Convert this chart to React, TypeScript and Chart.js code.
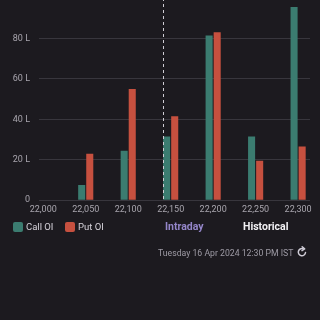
import React, { useEffect, useRef } from "react";
import { Chart, registerables } from "chart.js";

Chart.register(...registerables);

const strikes = [22000, 22050, 22100, 22150, 22200, 22250, 22300];
const callOI = [0, 7.5, 24.5, 31.5, 81.5, 31.5, 95.5];
const putOI = [0, 23, 55, 41.5, 83, 19.5, 26.5];
const yTicks = [0, 20, 40, 60, 80, 100];
const spotPrice = 22141;

const BG = "#1c1a1f";
const CALL = "#3b7c70";
const PUT = "#c6503f";
const TICK = "#a8a5ad";
const GRID = "#38363d";

const spotLine = {
  id: "spotLine",
  afterDatasetsDraw(chart: any) {
    const { ctx, chartArea, scales } = chart;
    const x = Math.round(scales.x.getPixelForValue(spotPrice)) + 0.5;
    ctx.save();
    ctx.strokeStyle = "#cfcdd4";
    ctx.lineWidth = 1;
    ctx.setLineDash([3, 3]);
    ctx.beginPath();
    ctx.moveTo(x, chartArea.top);
    ctx.lineTo(x, chartArea.bottom);
    ctx.stroke();
    ctx.restore();
  },
};

export default function App() {
  const ref = useRef<HTMLCanvasElement>(null);
  useEffect(() => {
    if (!ref.current) return;
    const chart = new Chart(ref.current, {
      type: "bar",
      data: {
        datasets: [
          {
            label: "Call OI",
            data: strikes.map((s, i) => ({ x: s, y: callOI[i] })),
            backgroundColor: CALL,
            categoryPercentage: 0.38,
            barPercentage: 0.875,
          },
          {
            label: "Put OI",
            data: strikes.map((s, i) => ({ x: s, y: putOI[i] })),
            backgroundColor: PUT,
            categoryPercentage: 0.38,
            barPercentage: 0.875,
          },
        ],
      },
      options: {
        animation: false,
        responsive: false,
        maintainAspectRatio: false,
        layout: { padding: { top: 24, right: 10, bottom: 5, left: 0 } },
        plugins: { legend: { display: false }, tooltip: { enabled: false } },
        scales: {
          x: {
            type: "linear",
            offset: false,
            min: 21995,
            max: 22314,
            grid: { display: false, drawTicks: false },
            border: { display: false },
            afterBuildTicks: (scale: any) => {
              scale.ticks = strikes.map((v) => ({ value: v }));
            },
            ticks: {
              color: TICK,
              font: { family: "Roboto", size: 9 },
              padding: 4,
              maxRotation: 0,
              autoSkip: false,
              callback: (v: any) => Number(v).toLocaleString("en-US"),
            },
          },
          y: {
            min: 0,
            max: 100,
            afterBuildTicks: (scale: any) => {
              scale.ticks = yTicks.map((v) => ({ value: v }));
            },
            afterFit: (scale: any) => {
              scale.width = 39;
            },
            grid: { color: GRID, drawTicks: false, lineWidth: 1 },
            border: { display: false },
            ticks: {
              color: TICK,
              font: { family: "Roboto", size: 9 },
              padding: 9,
              callback: (v: any) => (v === 0 ? "0" : v + " L"),
            },
          },
        },
      },
      plugins: [spotLine],
    });
    return () => chart.destroy();
  }, []);

  const text = { fontFamily: "Roboto, sans-serif", position: "absolute" as const, whiteSpace: "nowrap" as const };
  return (
    <div style={{ position: "fixed", left: 0, top: 0, width: 320, height: 320, background: BG, overflow: "hidden" }}>
      <canvas ref={ref} width={320} height={250} style={{ position: "absolute", left: 0, top: -26, width: 320, height: 250 }} />
      <div style={{ position: "absolute", left: 13, top: 222, width: 10, height: 10, borderRadius: 2, background: CALL }} />
      <div style={{ ...text, left: 26, top: 220, fontSize: 9.5, lineHeight: "14px", color: "#d6d3da" }}>Call OI</div>
      <div style={{ position: "absolute", left: 65, top: 222, width: 10, height: 10, borderRadius: 2, background: PUT }} />
      <div style={{ ...text, left: 78, top: 220, fontSize: 9.5, lineHeight: "14px", color: "#d6d3da" }}>Put OI</div>
      <div style={{ ...text, left: 165, top: 220, fontSize: 10.5, fontWeight: 700, lineHeight: "14px", color: "#9486c9" }}>Intraday</div>
      <div style={{ ...text, left: 243, top: 220, fontSize: 10.5, fontWeight: 700, lineHeight: "14px", color: "#f2f1f4" }}>Historical</div>
      <div style={{ ...text, left: 158, top: 247, fontSize: 8.7, lineHeight: "12px", color: "#9e9ba5" }}>Tuesday 16 Apr 2024 12:30 PM IST</div>
      <svg width={12} height={12} viewBox="0 0 12 12" style={{ position: "absolute", left: 296, top: 246 }}>
        <path d="M9.5 6.5 A3.6 3.6 0 1 1 7 2.7" fill="none" stroke="#cfccd6" strokeWidth={1.5} strokeLinecap="round" />
        <path d="M6.2 0.8 L8.6 2.9 L6 4.6" fill="none" stroke="#cfccd6" strokeWidth={1.5} strokeLinecap="round" strokeLinejoin="round" />
      </svg>
    </div>
  );
}
